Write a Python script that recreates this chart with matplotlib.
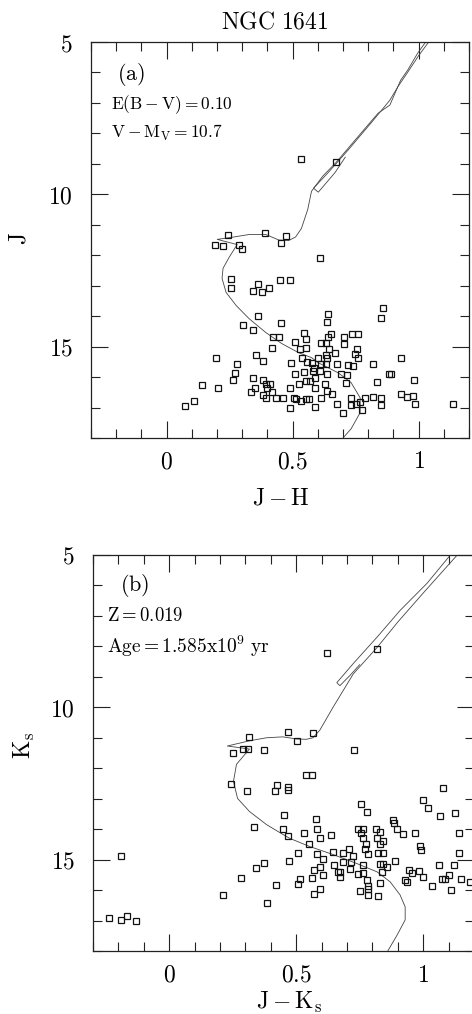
import matplotlib
matplotlib.use("Agg")
import matplotlib.pyplot as plt
from matplotlib.ticker import FixedLocator, MultipleLocator, FixedFormatter

plt.rcParams['mathtext.fontset'] = 'cm'
plt.rcParams['font.family'] = ['DejaVu Serif']

# ---------------- data ----------------
title = "NGC 1641"

# Panel (a): J vs J-H
a_x = [0.535, 0.673,
       0.244, 0.39, 0.474, 0.452, 0.193, 0.224, 0.287, 0.30,
       0.61, 0.256, 0.256, 0.362, 0.343, 0.378, 0.406, 0.449, 0.488,
       0.858, 0.85, 0.642, 0.638, 0.362, 0.303, 0.343, 0.453, 0.421, 0.445, 0.417,
       0.197, 0.28, 0.354, 0.382, 0.272, 0.264, 0.142, 0.205, 0.110, 0.073,
       0.343, 0.335, 0.35, 0.382, 0.394, 0.409, 0.398, 0.382, 0.394, 0.417, 0.433, 0.461, 0.488, 0.488, 0.504, 0.512,
       0.492, 0.508, 0.524, 0.535, 0.555, 0.567, 0.59, 0.614, 0.59, 0.587, 0.555, 0.571, 0.547, 0.579, 0.583, 0.539,
       0.559, 0.575, 0.602, 0.634, 0.614, 0.634, 0.610, 0.638, 0.677, 0.63, 0.638, 0.657, 0.677, 0.70,
       0.669, 0.646, 0.638, 0.654, 0.642, 0.634, 0.614, 0.547, 0.555, 0.555, 0.508, 0.531,
       0.705, 0.705, 0.736, 0.76, 0.756, 0.748, 0.76, 0.74, 0.72, 0.693, 0.717, 0.713,
       0.819, 0.835, 0.882, 0.89, 0.929, 0.98,
       0.732, 0.732, 0.752, 0.768, 0.787, 0.819, 0.85, 0.85, 0.776, 0.929, 0.953, 0.976, 0.984, 1.138]
a_y = [8.85, 8.95,
       11.32, 11.28, 11.38, 11.6, 11.68, 11.71, 11.68, 11.78,
       12.1, 12.77, 13.06, 12.96, 13.16, 13.2, 13.09, 12.8, 12.8,
       13.72, 14.05, 13.92, 14.2, 13.98, 14.28, 14.44, 14.24, 14.7, 14.67, 15.03,
       15.36, 15.56, 15.26, 15.46, 15.85, 16.09, 16.25, 16.35, 16.78, 16.95,
       16.02, 16.5, 16.35, 16.09, 16.22, 16.22, 16.35, 16.58, 16.68, 16.5, 16.7, 16.68, 16.35, 17.0, 16.68, 16.71,
       15.53, 15.89, 16.22, 16.78, 16.71, 16.71, 16.97, 16.68, 16.35, 16.02, 16.12, 16.12, 15.82, 15.79, 15.69, 15.39,
       15.49, 15.53, 15.36, 15.26, 15.56, 15.56, 15.79, 15.89, 15.56, 16.22, 16.45, 16.55, 16.88, 17.17,
       15.2, 15.07, 15.39, 14.6, 14.7, 14.87, 14.87, 14.54, 14.74, 15.03, 14.84, 15.07,
       14.7, 14.9, 14.57, 14.6, 15.07, 15.23, 15.39, 15.62, 15.59, 15.89, 15.92, 16.18,
       15.56, 16.15, 15.89, 15.89, 15.39, 16.09,
       16.68, 16.91, 16.88, 16.81, 16.68, 16.65, 16.68, 16.91, 17.07, 16.55, 16.65, 16.61, 16.88, 16.88]

# Isochrone (a): main sequence -> hook -> subgiant -> giant branch
iso_a_x = [0.70, 0.732, 0.768, 0.768, 0.732, 0.681, 0.602, 0.575, 0.524, 0.457, 0.394, 0.327, 0.276,
           0.236, 0.22, 0.224, 0.248, 0.28, 0.201, 0.26, 0.327, 0.394, 0.445, 0.484, 0.512, 0.535,
           0.56, 0.575, 0.62, 0.673, 0.748, 0.839, 0.886, 0.929, 0.957, 0.996, 1.028]
iso_a_y = [18.0, 17.7, 17.17, 16.68, 16.18, 15.86, 15.53, 15.36, 15.2, 14.9, 14.54, 14.08, 13.65,
           13.22, 12.76, 12.43, 12.07, 11.65, 11.48, 11.41, 11.32, 11.32, 11.5, 11.52, 11.4, 11.12,
           10.5, 9.9, 9.4, 8.95, 8.22, 7.34, 7.07, 6.25, 5.92, 5.37, 5.0]
# Isochrone (a): clump / AGB loop
loop_a_x = [0.709, 0.669, 0.602, 0.583, 0.642, 0.72, 0.811, 0.886, 0.917, 0.957, 1.0, 1.04]
loop_a_y = [8.78, 9.28, 9.93, 9.8, 9.28, 8.55, 7.66, 6.91, 6.48, 5.99, 5.45, 5.0]

# Panel (b): Ks vs J-Ks
b_x = [0.62, 0.818,
       0.316, 0.466, 0.502, 0.565, 0.253, 0.289, 0.312, 0.375, 0.727,
       0.537, 0.561, 0.245, 0.308, 0.423, 0.415, 0.466, 0.466, 1.079, 1.0, 1.02, 1.067, 1.126, 0.755, 0.779,
       0.451, 0.577, 0.581, 0.332, 0.447, 0.466, 0.53, 0.593, 0.636, 0.549, 0.743, 0.763, 0.755, 0.763, 0.775,
       0.783, 0.771, 0.814, 0.83, 0.818, 0.842, 0.83, 0.822, 0.842, 0.881, 0.885, 0.897, 0.921, 0.968, 0.988,
       0.992, 1.142, 1.142, 0.889, 1.063, 1.123, 0.83, 0.842, 0.858, 0.838, 0.763, 0.743, 0.763, 0.779, 0.83,
       0.783, 0.783, 0.751, 0.783, 0.822, 0.929, 0.937, 0.945, 0.957, 0.984, 1.0, 1.036, 1.075, 1.087, 1.103,
       1.111, 1.15, 1.186, 0.644, 0.684, 0.708, 0.723, 0.715, 0.648, 0.664, 0.672, 0.672, 0.711, 0.684, 0.581,
       0.605, 0.593, 0.569, 0.605, 0.561, 0.506, 0.47, 0.514, 0.506, 0.593, 0.569, 0.375, 0.34, 0.281, 0.419,
       0.213, 0.387, -0.19, -0.237, -0.19, -0.166, -0.13]
b_y = [8.23, 8.1,
       10.97, 10.8, 11.1, 10.84, 11.5, 11.37, 11.37, 11.4, 11.4,
       12.23, 12.23, 12.52, 12.76, 12.56, 12.76, 12.6, 12.7, 12.66, 13.05, 13.32, 13.58, 13.48, 13.18, 13.45,
       13.55, 13.68, 13.98, 13.94, 14.0, 14.24, 14.14, 14.3, 14.2, 14.5, 13.98, 13.98, 14.14, 14.3, 14.5,
       14.83, 14.64, 13.98, 14.08, 14.3, 14.4, 14.5, 14.77, 14.77, 13.71, 13.81, 13.98, 14.17, 14.14, 14.54,
       14.67, 14.11, 14.77, 15.03, 15.17, 15.17, 15.13, 15.13, 15.23, 15.4, 15.17, 15.46, 15.43, 15.66, 15.76,
       15.86, 15.96, 16.02, 16.16, 16.19, 15.66, 15.73, 15.33, 15.43, 15.36, 15.56, 15.86, 15.63, 15.63, 15.5,
       15.99, 15.63, 15.73, 14.74, 14.77, 14.64, 14.87, 15.07, 15.17, 15.4, 15.4, 15.56, 15.3, 15.07, 14.83,
       14.97, 15.23, 15.33, 15.5, 15.59, 14.77, 15.03, 15.63, 15.79, 15.96, 16.12, 15.1, 15.26, 15.59, 15.83,
       16.16, 16.42, 14.87, 16.91, 16.98, 16.85, 17.01]

iso_b_x = [0.857, 0.897, 0.929, 0.929, 0.909, 0.87, 0.818, 0.739, 0.644, 0.553, 0.474, 0.447, 0.383,
           0.316, 0.269, 0.253, 0.265, 0.316, 0.229, 0.316, 0.383, 0.447, 0.502, 0.54, 0.566, 0.593,
           0.645, 0.725, 0.818, 0.9, 1.0, 1.134]
iso_b_y = [18.05, 17.48, 16.98, 16.55, 16.16, 15.73, 15.4, 15.13, 14.83, 14.57, 14.3, 14.17, 13.85,
           13.42, 12.99, 12.43, 11.87, 11.37, 11.27, 11.1, 11.0, 10.97, 11.04, 11.05, 11.0, 10.75,
           10.0, 8.9, 8.04, 7.2, 6.25, 5.0]
loop_b_x = [0.75, 0.711, 0.672, 0.66, 0.725, 0.818, 0.909, 1.015, 1.107]
loop_b_y = [8.6, 8.96, 9.29, 9.19, 8.56, 7.7, 6.82, 5.93, 5.0]

x_ticks = [0, 0.5, 1]
x_ticklabels = [r'$\mathrm{0}$', r'$\mathrm{0.5}$', r'$\mathrm{1}$']
y_ticks = [5, 10, 15]
y_ticklabels = [r'$\mathrm{5}$', r'$\mathrm{10}$', r'$\mathrm{15}$']

# ---------------- figure ----------------
W, H = 472, 1014
fig = plt.figure(figsize=(W / 100, H / 100), dpi=100)

def px_axes(l, t, r, b):
    return fig.add_axes([l / W, 1 - b / H, (r - l) / W, (b - t) / H])

ax_a = px_axes(91, 42, 469, 438)
ax_b = px_axes(93, 555, 474, 951)

def style(ax):
    ax.set_xlim(-0.3, 1.2)
    ax.set_ylim(18, 5)
    ax.xaxis.set_major_locator(FixedLocator(x_ticks))
    ax.xaxis.set_major_formatter(FixedFormatter(x_ticklabels))
    ax.xaxis.set_minor_locator(MultipleLocator(0.1))
    ax.yaxis.set_major_locator(FixedLocator(y_ticks))
    ax.yaxis.set_major_formatter(FixedFormatter(y_ticklabels))
    ax.yaxis.set_minor_locator(MultipleLocator(1))
    ax.tick_params(which='both', direction='in', top=True, right=True, width=0.8, color='#222222')
    ax.tick_params(which='major', length=12)
    ax.tick_params(which='minor', length=6.5)
    ax.tick_params(axis='x', which='major', labelsize=17, pad=9)
    ax.tick_params(axis='y', which='major', labelsize=17, pad=13)
    for s in ax.spines.values():
        s.set_linewidth(0.9)
        s.set_color('#222222')

for ax, xs, ys, ix, iy, lx, ly in [
        (ax_a, a_x, a_y, iso_a_x, iso_a_y, loop_a_x, loop_a_y),
        (ax_b, b_x, b_y, iso_b_x, iso_b_y, loop_b_x, loop_b_y)]:
    style(ax)
    ax.plot(ix, iy, color='#444444', lw=0.6)
    ax.plot(lx, ly, color='#444444', lw=0.6)
    ax.plot(xs, ys, linestyle='none', marker='s', markersize=4.2,
            markerfacecolor='none', markeredgecolor='#111111', markeredgewidth=0.9)

# annotations panel (a)
ax_a.text(0.068, 0.919, r'$\mathrm{(a)}$', transform=ax_a.transAxes, fontsize=16, va='center', ha='left')
ax_a.text(0.053, 0.843, r'$\mathrm{E(B-V)=0.10}$', transform=ax_a.transAxes, fontsize=12.5, va='center', ha='left')
ax_a.text(0.053, 0.771, r'$\mathrm{V-M_V=10.7}$', transform=ax_a.transAxes, fontsize=12.5, va='center', ha='left')
# annotations panel (b)
ax_b.text(0.071, 0.924, r'$\mathrm{(b)}$', transform=ax_b.transAxes, fontsize=16, va='center', ha='left')
ax_b.text(0.037, 0.846, r'$\mathrm{Z=0.019}$', transform=ax_b.transAxes, fontsize=13.5, va='center', ha='left')
ax_b.text(0.037, 0.770, r'$\mathrm{Age=1.585x10^9\ yr}$', transform=ax_b.transAxes, fontsize=14, va='center', ha='left')

# title and axis labels
fig.text(275 / W, 1 - 22 / H, r'$\mathrm{NGC\ 1641}$', fontsize=17, ha='center', va='center')
fig.text(281 / W, 1 - 498 / H, r'$\mathrm{J-H}$', fontsize=17, ha='center', va='center')
fig.text(289 / W, 1 - 1002 / H, r'$\mathrm{J-K_s}$', fontsize=17, ha='center', va='center')
fig.text(19 / W, 1 - 239 / H, r'$\mathrm{J}$', fontsize=17, ha='center', va='center', rotation=90)
fig.text(24 / W, 1 - 745 / H, r'$\mathrm{K_s}$', fontsize=17, ha='center', va='center', rotation=90)

fig.savefig('out.png', dpi=100)
